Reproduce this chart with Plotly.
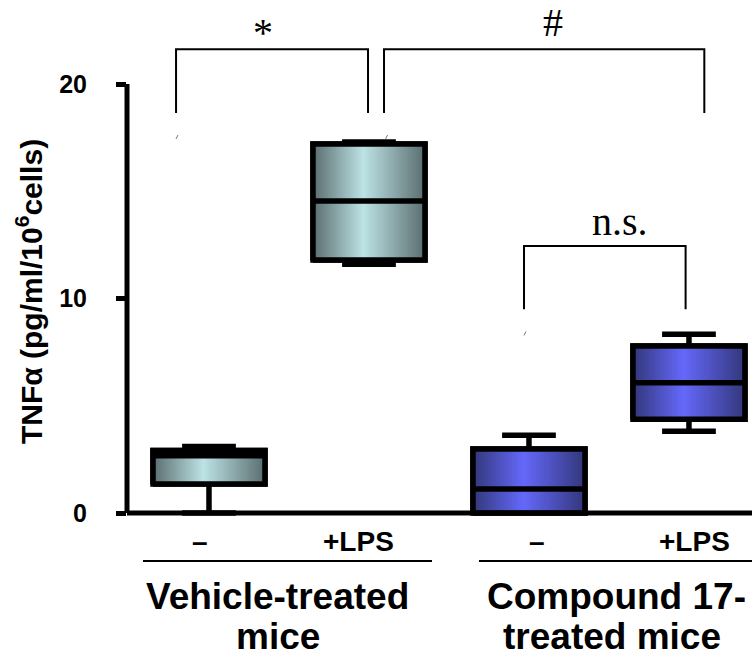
import plotly.graph_objects as go

# ---------------- data ----------------
conditions = ["–", "+LPS", "–", "+LPS"]
groups = ["Vehicle-treated mice", "Compound 17-treated mice"]
minimum = [0.0, 11.6, 0.0, 3.81]
q1 = [1.35, 11.8, 0.0, 4.37]
median = [2.67, 14.55, 1.12, 6.07]
q3 = [2.91, 17.2, 2.98, 7.79]
maximum = [3.1, 17.3, 3.63, 8.33]
y_ticks = [0, 10, 20]

# comparisons: (left x, right x, label, top value, end value)
brackets = [
    (-0.206, 0.994, "*", 21.62, 18.65),
    (1.094, 3.096, "#", 21.62, 18.65),
    (1.969, 2.979, "n.s.", 12.45, 9.50),
]

# ---------------- style ----------------
SANS = "Liberation Sans, Arial, sans-serif"
SERIF = "Liberation Serif, Times New Roman, serif"
BOX_W = 0.7
LW = 5.5
teal_scale = [[0, "#5a6d6f"], [0.45, "#bde3e5"], [1, "#5a6d6f"]]
blue_scale = [[0, "#33377a"], [0.45, "#6468fa"], [1, "#33377a"]]
scales = [teal_scale, teal_scale, blue_scale, blue_scale]
xs = list(range(len(conditions)))

fig = go.Figure()

# whiskers and caps from the box traces
for i in xs:
    fig.add_trace(go.Box(
        x=[i], q1=[q1[i]], median=[median[i]], q3=[q3[i]],
        lowerfence=[minimum[i]], upperfence=[maximum[i]],
        width=BOX_W, whiskerwidth=0.48, boxpoints=False,
        line=dict(color="black", width=LW),
        fillcolor="rgba(0,0,0,0)", showlegend=False, hoverinfo="skip",
    ))

# gradient box bodies
for i in xs:
    x0, x1 = i - BOX_W / 2, i + BOX_W / 2
    fig.add_trace(go.Scatter(
        x=[x0, x1, x1, x0, x0], y=[q1[i], q1[i], q3[i], q3[i], q1[i]],
        mode="lines", fill="toself",
        fillgradient=dict(type="horizontal", colorscale=scales[i]),
        line=dict(color="black", width=LW),
        showlegend=False, hoverinfo="skip",
    ))

# median lines
mx, my = [], []
for i in xs:
    mx += [i - BOX_W / 2, i + BOX_W / 2, None]
    my += [median[i], median[i], None]
fig.add_trace(go.Scatter(x=mx, y=my, mode="lines",
                         line=dict(color="black", width=LW),
                         showlegend=False, hoverinfo="skip"))

shapes = []
annotations = []

# axis lines
shapes.append(dict(type="line", xref="paper", yref="y", x0=0, x1=0, y0=0, y1=y_ticks[-1],
                   line=dict(color="black", width=5)))
shapes.append(dict(type="line", xref="paper", yref="y", x0=0, x1=1, y0=0, y1=0,
                   line=dict(color="black", width=5)))

# significance brackets
label_x = [0.3375, 2.15, 2.569]
label_shift = [-8, 2, 0]
for (xl, xr, lab, top, end), lx, ys in zip(brackets, label_x, label_shift):
    shapes.append(dict(type="path", xref="x", yref="y",
                       path=f"M {xl},{end} L {xl},{top} L {xr},{top} L {xr},{end}",
                       line=dict(color="black", width=2)))
    annotations.append(dict(x=lx, y=top, xref="x", yref="y", text=lab, showarrow=False,
                            yanchor="bottom", yshift=ys,
                            font=dict(family=SERIF, size=40, color="black")))

# tiny bracket-end remnants
for sx, sy in [(-0.2, 17.53), (1.11, 17.53), (1.975, 8.37)]:
    shapes.append(dict(type="line", xref="x", yref="y", x0=sx - 0.006, x1=sx + 0.006,
                       y0=sy - 0.09, y1=sy + 0.09, line=dict(color="#777777", width=1)))

# condition labels
shifts = [-9, -10, 8, 6]
for i in xs:
    annotations.append(dict(x=i, y=-0.0463, xref="x", yref="paper", text=conditions[i],
                            showarrow=False, xshift=shifts[i], yanchor="middle",
                            font=dict(family=SANS, size=28, color="black", weight="bold")))

# group underlines
for xa, xb in [(-0.4125, 1.394), (1.6875, 3.394)]:
    shapes.append(dict(type="line", xref="x", yref="paper", x0=xa, x1=xb, y0=-0.083, y1=-0.083,
                       line=dict(color="black", width=2)))

# group labels (two lines each)
group_lines = [["Vehicle-treated", "mice"], ["Compound 17-", "treated mice"]]
group_x = [0.43, 2.55]
line_y = [-0.1525, -0.2297]
for g, lines in enumerate(group_lines):
    for k, txt in enumerate(lines):
        annotations.append(dict(x=group_x[g] - (0.03 if (g == 1 and k == 1) else 0),
                                y=line_y[k], xref="x", yref="paper",
                                text=txt, showarrow=False, yanchor="middle",
                                font=dict(family=SANS, size=37, color="black", weight="bold")))

# y-axis title
annotations.append(dict(x=0, xref="paper", xshift=-98, y=10.3, yref="y",
                        text="TNFα (pg/ml/10<sup>6</sup>cells)", textangle=-90,
                        showarrow=False, xanchor="center", yanchor="middle",
                        font=dict(family=SANS, size=30, color="black", weight="bold")))

fig.update_layout(
    width=752, height=664,
    margin=dict(l=127, r=0, t=0, b=146),
    paper_bgcolor="white", plot_bgcolor="white",
    shapes=shapes, annotations=annotations, showlegend=False,
    xaxis=dict(range=[-0.5125, 3.394], showgrid=False, zeroline=False,
               showticklabels=False, ticks="", showline=False),
    yaxis=dict(range=[-0.233, 23.916], showgrid=False, zeroline=False, showline=False,
               tickvals=y_ticks, ticks="outside", ticklen=10, tickwidth=5, tickcolor="black",
               ticklabelstandoff=24,
               tickfont=dict(family=SANS, size=25, color="black", weight="bold")),
)

fig.write_html("out.html", config={"displayModeBar": False},
               post_script="document.body.style.margin='0px';document.body.style.overflow='hidden';")
